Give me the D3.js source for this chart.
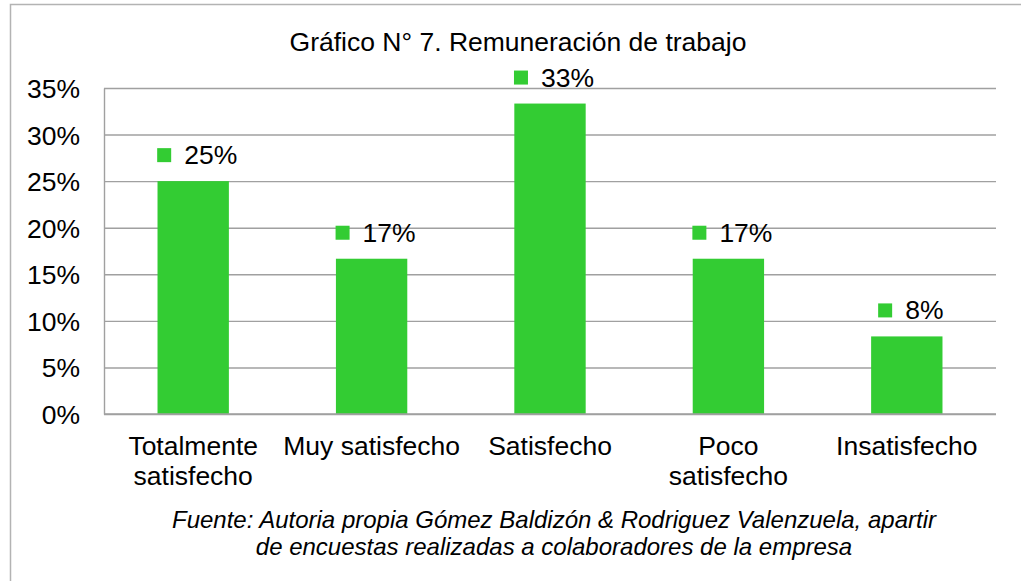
<!DOCTYPE html>
<html>
<head>
<meta charset="utf-8">
<script src="https://cdn.jsdelivr.net/npm/d3@7"></script>
<style>
  body { margin: 0; background: #fff; }
  text { font-family: "Liberation Sans", Arial, sans-serif; fill: #000; }
</style>
</head>
<body>
<script>
const categories = ["Totalmente satisfecho", "Muy satisfecho", "Satisfecho", "Poco satisfecho", "Insatisfecho"];
const categoryLines = [["Totalmente", "satisfecho"], ["Muy satisfecho"], ["Satisfecho"], ["Poco", "satisfecho"], ["Insatisfecho"]];
const values = [25, 16.67, 33.33, 16.67, 8.33];
const valueLabels = ["25%", "17%", "33%", "17%", "8%"];
const yTicks = [0, 5, 10, 15, 20, 25, 30, 35];
const title = "Gráfico N° 7. Remuneración de trabajo";
const source = ["Fuente: Autoria propia Gómez Baldizón & Rodriguez Valenzuela, apartir",
                "de encuestas realizadas a colaboradores de la empresa"];

const width = 1021;
const height = 581;
const plot = {left: 104, right: 996, top: 88, bottom: 414};
const green = "#33cc33";
const grid = "#a0a0a0";
const fs = "26.5px";

const svg = d3.select("body")
    .append("svg")
    .attr("width", width)
    .attr("height", height);

// outer chart border
svg.append("rect")
    .attr("x", 10.5).attr("y", 4.5)
    .attr("width", width + 20).attr("height", height + 20)
    .attr("fill", "#fff")
    .attr("stroke", "#b3b3b3")
    .attr("stroke-width", 1.5);

const x = d3.scaleBand()
    .domain(categories)
    .range([plot.left, plot.right])
    .paddingInner(0.6)
    .paddingOuter(0.3);

const y = d3.scaleLinear()
    .domain([0, 35])
    .range([plot.bottom, plot.top]);

// gridlines
const gridAxis = svg.append("g")
    .attr("transform", `translate(${plot.left},0)`)
    .call(d3.axisLeft(y).tickValues(yTicks).tickSize(-(plot.right - plot.left)).tickFormat(""));
gridAxis.select(".domain").remove();
gridAxis.selectAll("line").attr("stroke", grid).attr("stroke-width", 1.4);

// y axis labels
const yAxis = svg.append("g")
    .attr("transform", `translate(${plot.left},0)`)
    .call(d3.axisLeft(y).tickValues(yTicks).tickSize(0).tickPadding(24).tickFormat(d => d + "%"));
yAxis.select(".domain").attr("stroke", grid).attr("stroke-width", 1.4);
yAxis.selectAll("text")
    .style("font-family", "'Liberation Sans', Arial, sans-serif")
    .style("font-size", fs)
    .attr("dy", "0.36em");

// bars
svg.selectAll(".bar")
    .data(values)
    .enter()
    .append("rect")
    .attr("class", "bar")
    .attr("x", (d, i) => x(categories[i]))
    .attr("y", d => y(d))
    .attr("width", x.bandwidth())
    .attr("height", d => y(0) - y(d))
    .attr("fill", green);

// redraw baseline over bars
svg.append("line")
    .attr("x1", plot.left).attr("x2", plot.right)
    .attr("y1", y(0)).attr("y2", y(0))
    .attr("stroke", grid).attr("stroke-width", 1.4);

// data labels with legend key
const labels = svg.selectAll(".lbl")
    .data(values)
    .enter()
    .append("g")
    .attr("class", "lbl");

labels.each(function(d, i) {
    const g = d3.select(this);
    const cx = x(categories[i]) + x.bandwidth() / 2 + 4;
    const base = y(d) - 17;
    const t = g.append("text")
        .attr("y", base)
        .style("font-size", fs)
        .text(valueLabels[i]);
    const tw = t.node().getComputedTextLength();
    const gw = 14 + 13 + tw;
    const left = cx - gw / 2;
    g.append("rect")
        .attr("x", left).attr("y", base - 16)
        .attr("width", 14).attr("height", 14)
        .attr("fill", green);
    t.attr("x", left + 27);
});

// category labels
svg.selectAll(".cat")
    .data(categories)
    .enter()
    .append("text")
    .attr("class", "cat")
    .attr("text-anchor", "middle")
    .attr("x", d => x(d) + x.bandwidth() / 2)
    .attr("y", 455)
    .style("font-size", fs)
    .selectAll("tspan")
    .data((d, i) => categoryLines[i])
    .enter()
    .append("tspan")
    .attr("x", function() { return d3.select(this.parentNode).attr("x"); })
    .attr("dy", (d, i) => i === 0 ? 0 : 30)
    .text(d => d);

// title
svg.append("text")
    .attr("x", 518)
    .attr("y", 51)
    .attr("text-anchor", "middle")
    .style("font-size", fs)
    .text(title);

// source note
svg.selectAll(".src")
    .data(source)
    .enter()
    .append("text")
    .attr("class", "src")
    .attr("x", 554)
    .attr("y", (d, i) => 528 + i * 27)
    .attr("text-anchor", "middle")
    .style("font-size", "24px")
    .style("font-style", "italic")
    .text(d => d);
</script>
</body>
</html>
